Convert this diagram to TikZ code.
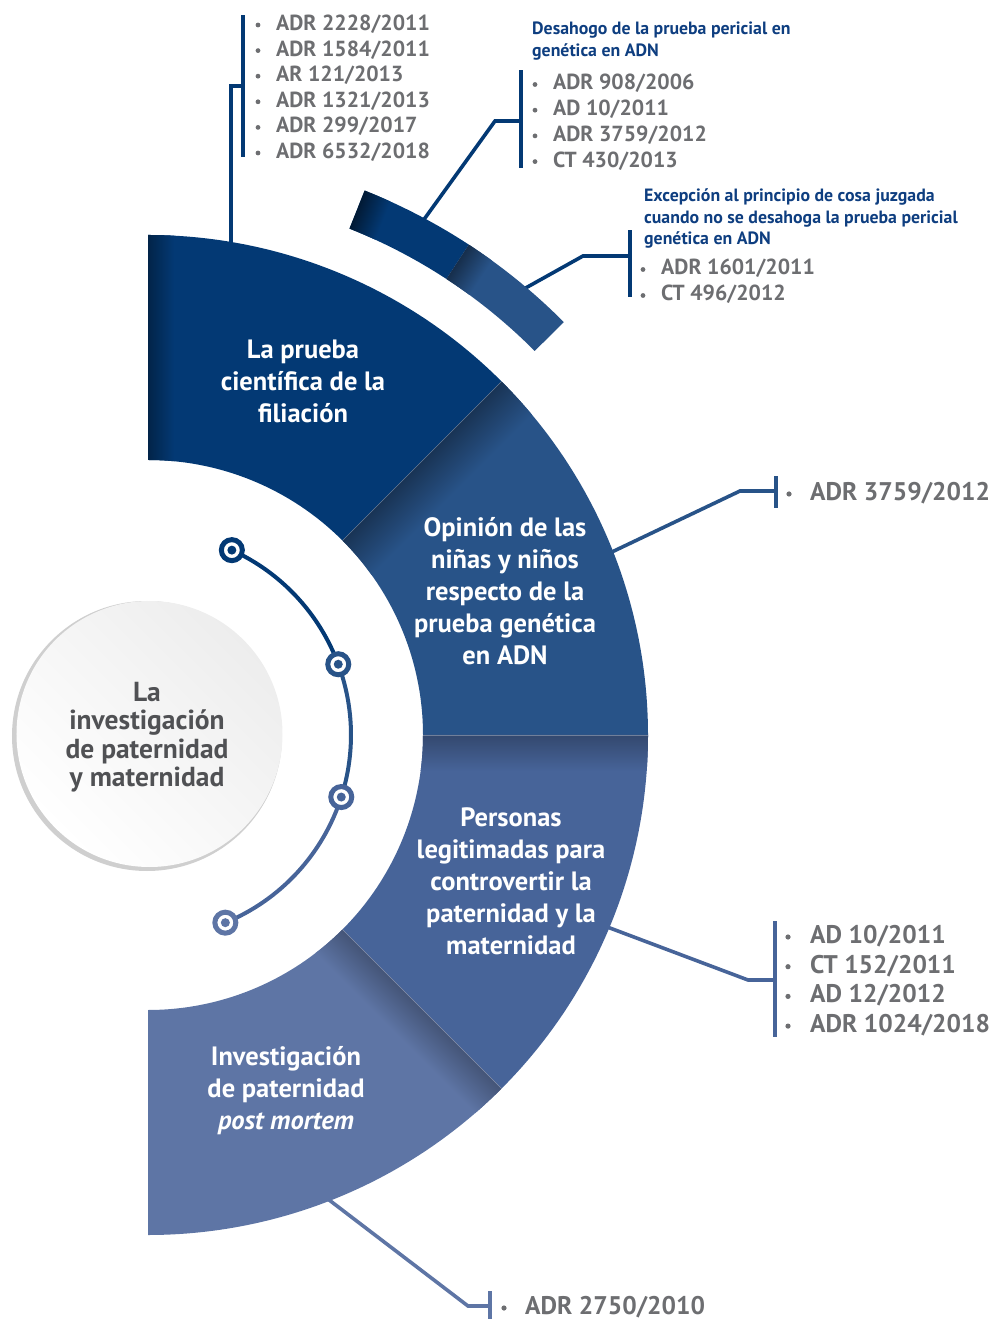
\documentclass[tikz,border=0pt]{standalone}
\usepackage{fontspec}
\setmainfont{PT Sans}
\definecolor{segA}{RGB}{3,57,116}
\definecolor{segB}{RGB}{40,83,136}
\definecolor{segC}{RGB}{71,100,153}
\definecolor{segD}{RGB}{94,117,165}
\definecolor{itemgray}{RGB}{109,110,113}
\definecolor{centergray}{RGB}{80,81,84}
\definecolor{headblue}{RGB}{14,62,128}

% ring piece: colour, start angle, end angle, inner radius, outer radius
\newcommand\ringpiece[5]{%
  \fill[#1] (#2:#4) arc[start angle=#2, end angle=#3, radius=#4]
    -- (#3:#5) arc[start angle=#3, end angle=#2, radius=#5] -- cycle;}
% soft shadow along the start edge of a ring piece:
% colour, dark colour, start, end, inner r, outer r, shadow width
\newcommand\pieceshade[7]{%
  \begin{scope}
    \clip (#3:#5) arc[start angle=#3, end angle=#4, radius=#5]
      -- (#4:#6) arc[start angle=#4, end angle=#3, radius=#6] -- cycle;
    \begin{scope}[transform canvas={rotate=#3}]
      \shade[top color=#2, bottom color=#1] (0,-#7) rectangle (#6+10,0.5);
    \end{scope}
  \end{scope}}

\begin{document}
\begin{tikzpicture}[x=1pt,y=1pt,
  seglabel/.style={text=white, font=\bfseries\fontsize{26.5}{32}\selectfont, align=center, inner sep=0pt},
  caseitem/.style={anchor=base west, inner sep=0pt, text=itemgray, font=\bfseries\fontsize{21.8}{25}\selectfont},
  bigitem/.style={caseitem, font=\bfseries\fontsize{25.5}{30}\selectfont},
  listhead/.style={anchor=west, inner sep=0pt, text=headblue, align=left, font=\bfseries\fontsize{17.8}{21.5}\selectfont},
  listbar/.style={rectangle, inner sep=0pt, minimum width=4.5pt, fill=#1},
  link/.style={draw=#1, line width=3.6pt},
  dotring/.style={circle, draw=#1, line width=5pt, fill=white, minimum size=21pt, inner sep=0pt,
    path picture={\fill[#1] (path picture bounding box.center) circle (4.5pt);}},
  itemdot/.style={fill=itemgray},
]
\path[use as bounding box] (-148,-584) rectangle (847,735);

% ---- central topic circle ----
\fill[gray!38] (-1,-1) circle (135);
\shade[top color=gray!14, bottom color=white, shading angle=-45] (1.5,1) circle (133);
\node[align=center, text=centergray, font=\bfseries\fontsize{27.5}{28.5}\selectfont] (topic) at (-1,-2)
  {La\\investigación\\de paternidad\\y maternidad};

% ---- inner timeline arc ----
\draw[segA, line width=4pt] (65.6:203) arc[start angle=65.6, end angle=20.4, radius=203];
\draw[segB, line width=4pt] (20.4:203) arc[start angle=20.4, end angle=-17.8, radius=203];
\draw[segC, line width=4pt] (-17.8:203) arc[start angle=-17.8, end angle=-67.6, radius=203];
\node[dotring=segA] (p1) at (65.6:203) {};
\node[dotring=segB] (p2) at (20.4:203) {};
\node[dotring=segC] (p3) at (-17.8:203) {};
\node[dotring=segD] (p4) at (-67.6:203) {};

% ---- bracket bars ----
\node[listbar=segA, minimum height=142pt] (bar1) at (95,649) {};
\node[listbar=segA, minimum height=98pt] (bar2) at (373,616) {};
\node[listbar=segA, minimum height=67pt] (bar3) at (482,471.5) {};
\node[listbar=segB, minimum height=32pt] (bar4) at (628,243) {};
\node[listbar=segC, minimum height=116pt] (bar5) at (627,-244) {};
\node[listbar=segD, minimum height=34pt] (bar6) at (342,-573) {};

% ---- connector anchors ----
\coordinate (s1) at (83,480);
\coordinate (s2) at (61.9:580);
\coordinate (s3) at (50:580);
\coordinate (s4) at (21.5:495);
\coordinate (s5) at (-22.7:495);
\coordinate (s6) at (-69:495);
\coordinate (k2) at (347,614);
\coordinate (k3) at (435,479);
\coordinate (k4) at (592,244);
\coordinate (k5) at (600,-245);
\coordinate (k6) at (320,-571);

\draw[link=segA] (s1) |- (bar1.center);
\draw[link=segA] (s2) -- (k2) -- (k2 -| bar2.center);
\draw[link=segA] (s3) -- (k3) -- (k3 -| bar3.center);
\draw[link=segB] (s4) -- (k4) -- (k4 -| bar4.center);
\draw[link=segC] (s5) -- (k5) -- (k5 -| bar5.center);
\draw[link=segD] (s6) -- (k6) -- (k6 -| bar6.center);

% ---- main ring ----
\ringpiece{segA}{90}{45}{275}{500}
\pieceshade{segA}{segA!62!black}{90}{45}{275}{500}{26}
\ringpiece{segB}{45}{0}{275}{500}
\pieceshade{segB}{segB!62!black}{45}{0}{275}{500}{45}
\ringpiece{segC}{0}{-45}{275}{500}
\pieceshade{segC}{segC!72!black}{0}{-45}{275}{500}{36}
\ringpiece{segD}{-45}{-90}{275}{500}
\pieceshade{segD}{segD!72!black}{-45}{-90}{275}{500}{36}
\foreach \a in {45,0,-45}
  \draw[white, opacity=.3, line width=.6pt] (\a:275) -- (\a:500);

% ---- outer band ----
\ringpiece{segA}{68.3}{56.8}{545}{586}
\pieceshade{segA}{segA!45!black}{68.3}{56.8}{545}{586}{28}
\ringpiece{segB}{56.8}{44.8}{545}{586}
\pieceshade{segB}{segB!55!black}{56.8}{44.8}{545}{586}{28}

% ---- ring labels ----
\node[seglabel] (t1) at (155,354) {La prueba\\científica de la\\filiación};
\node[seglabel] (t2) at (357,144) {Opinión de las\\niñas y niños\\respecto de la\\prueba genética\\en ADN};
\node[seglabel] (t3) at (363,-146) {Personas\\legitimadas para\\controvertir la\\paternidad y la\\maternidad};
\node[seglabel] (t4) at (138,-356) {Investigación\\de paternidad\\\textit{post mortem}};

% ---- headings ----
\node[listhead] (h2) at (384,694) {Desahogo de la prueba pericial en\\genética en ADN};
\node[listhead] (h3) at (496,516.5) {Excepción al principio de cosa juzgada\\cuando no se desahoga la prueba pericial\\genética en ADN};

% ---- case lists ----
\foreach \t [count=\i from 0] in {ADR 2228/2011,ADR 1584/2011,AR 121/2013,ADR 1321/2013,ADR 299/2017,ADR 6532/2018}{
  \fill[itemdot] (110,{710-25.6*\i}) circle (2.4);
  \node[caseitem] (la\i) at (128,{704.5-25.6*\i}) {\t};
}
\foreach \t [count=\i from 0] in {ADR 908/2006,AD 10/2011,ADR 3759/2012,CT 430/2013}{
  \fill[itemdot] (387,{650.5-25.7*\i}) circle (2.4);
  \node[caseitem] (lb\i) at (405,{645-25.7*\i}) {\t};
}
\foreach \t [count=\i from 0] in {ADR 1601/2011,CT 496/2012}{
  \fill[itemdot] (495,{465.5-26*\i}) circle (2.4);
  \node[caseitem] (lc\i) at (513,{460-26*\i}) {\t};
}
\fill[itemdot] (641,241) circle (2.6);
\node[bigitem] (ld0) at (662,234.5) {ADR 3759/2012};
\foreach \t [count=\i from 0] in {AD 10/2011,CT 152/2011,AD 12/2012,ADR 1024/2018}{
  \fill[itemdot] (640,{-202-29.7*\i}) circle (2.6);
  \node[bigitem] (le\i) at (662,{-208.5-29.7*\i}) {\t};
}
\fill[itemdot] (356,-573) circle (2.6);
\node[bigitem] (lf0) at (377,-579.5) {ADR 2750/2010};
\end{tikzpicture}
\end{document}
